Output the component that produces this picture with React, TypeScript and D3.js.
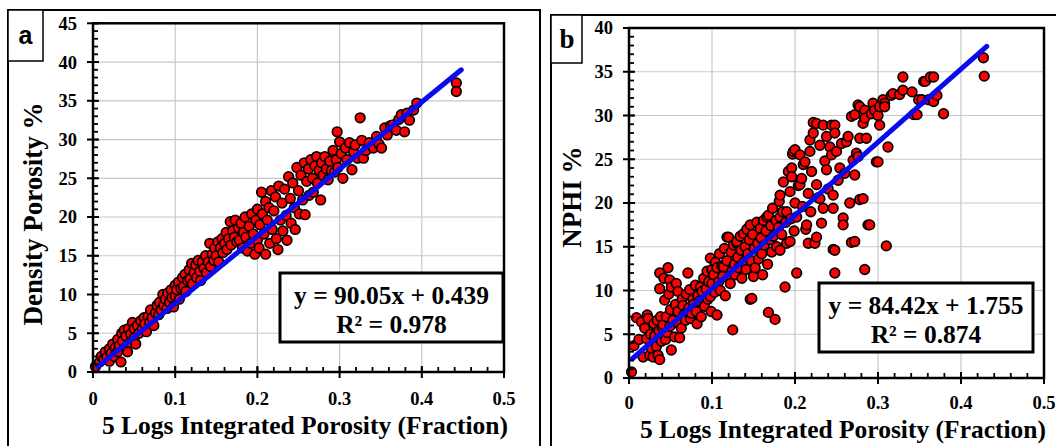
import React from "react";
import * as d3 from "d3";

// ---------- Data ----------
const xTicks = [0, 0.1, 0.2, 0.3, 0.4, 0.5];
const xTickLabels = ["0", "0.1", "0.2", "0.3", "0.4", "0.5"];
const yTicksA = [0, 5, 10, 15, 20, 25, 30, 35, 40, 45];
const yTicksB = [0, 5, 10, 15, 20, 25, 30, 35, 40];

const xTitle = "5 Logs Integrated Porosity (Fraction)";
const yTitleA = "Density Porosity %";
const yTitleB = "NPHI %";
const eqA = ["y = 90.05x + 0.439", "R² = 0.978"];
const eqB = ["y = 84.42x + 1.755", "R² = 0.874"];

const trendAX = [0.006, 0.448];
const trendAY = [0.7, 39.0];
const trendBX = [0.004, 0.431];
const trendBY = [2.2, 37.9];

const pointsA: [number, number][] = [
  [0.003,0.7],[0.008,1.3],[0.01,2.0],[0.013,1.6],[0.015,2.6],[0.017,1.9],[0.02,3.0],[0.02,1.4],[0.022,2.4],[0.024,3.6],
  [0.026,2.0],[0.027,3.1],[0.03,2.6],[0.03,4.2],[0.032,3.4],[0.034,1.3],[0.035,5.0],[0.036,4.0],[0.038,5.4],[0.04,3.2],
  [0.04,4.6],[0.042,2.6],[0.043,5.6],[0.045,3.8],[0.046,4.9],[0.048,6.4],[0.05,4.4],[0.05,5.6],[0.052,3.6],[0.054,6.0],
  [0.056,5.0],[0.058,6.6],[0.06,5.6],[0.062,7.0],[0.063,6.2],[0.065,5.2],[0.067,7.2],[0.069,6.4],[0.07,8.0],[0.072,7.0],
  [0.074,6.0],[0.076,7.6],[0.078,8.6],[0.08,7.4],[0.081,9.0],[0.083,8.0],[0.085,10.0],[0.086,8.6],[0.088,9.4],[0.09,8.2],
  [0.091,10.2],[0.093,9.0],[0.095,10.6],[0.096,9.6],[0.098,8.4],[0.1,11.2],[0.1,9.8],
  [0.102,10.6],[0.104,11.6],[0.105,9.4],[0.107,10.8],[0.109,12.2],[0.11,11.0],[0.112,12.6],[0.113,10.4],[0.115,11.8],[0.117,13.2],
  [0.118,12.0],[0.12,14.0],[0.121,11.4],[0.123,12.8],[0.125,13.8],[0.126,12.2],[0.128,14.4],[0.13,13.0],[0.131,11.8],[0.133,14.2],
  [0.135,13.4],[0.137,15.0],[0.138,12.8],[0.14,14.2],[0.142,16.6],[0.143,13.6],[0.145,15.2],[0.147,14.4],[0.148,16.0],[0.15,15.0],
  [0.152,16.8],[0.153,14.2],[0.155,16.0],[0.157,17.2],[0.158,15.4],[0.16,16.6],[0.162,18.0],[0.163,15.8],[0.165,17.2],[0.167,19.4],
  [0.168,16.4],[0.17,18.2],[0.172,17.4],[0.173,19.6],[0.175,16.8],[0.177,18.6],[0.178,17.0],[0.18,19.2],[0.182,16.0],[0.183,18.0],
  [0.185,20.0],[0.186,17.4],[0.188,15.6],[0.19,18.8],[0.192,16.6],[0.193,20.4],[0.195,17.8],[0.197,15.2],[0.198,19.6],[0.2,21.0],[0.2,17.0],
  [0.202,16.0],[0.203,19.0],[0.205,23.2],[0.206,20.4],[0.208,17.8],[0.21,22.0],[0.21,15.2],[0.212,19.6],[0.214,21.2],[0.215,16.6],
  [0.217,23.4],[0.218,18.4],[0.22,20.8],[0.222,22.6],[0.223,17.2],[0.225,15.8],[0.226,24.0],[0.228,19.6],[0.23,21.8],[0.231,18.2],
  [0.233,23.6],[0.235,20.2],[0.236,17.0],[0.238,25.2],[0.24,22.4],[0.241,19.2],[0.243,24.4],[0.245,21.2],[0.246,18.4],[0.248,26.4],
  [0.25,23.4],[0.251,20.4],[0.253,25.4],[0.255,22.2],[0.257,27.0],[0.258,20.3],[0.26,24.6],[0.262,26.2],[0.263,22.8],[0.265,27.4],
  [0.267,25.0],[0.268,23.2],[0.27,26.6],[0.272,27.8],[0.273,24.4],[0.275,26.0],[0.277,22.2],[0.278,27.0],[0.28,25.4],[0.282,27.8],
  [0.284,26.2],[0.286,24.8],[0.288,27.2],[0.29,26.0],[0.292,28.6],[0.294,25.8],[0.296,27.4],[0.297,31.0],[0.298,26.4],[0.3,29.7],
  [0.302,28.2],[0.304,25.0],[0.307,28.9],[0.309,27.4],[0.312,29.6],[0.315,26.1],[0.317,28.4],[0.319,29.3],[0.322,27.6],[0.325,32.8],
  [0.327,29.9],[0.329,27.6],[0.332,28.6],[0.336,29.6],[0.341,28.9],[0.345,30.4],[0.348,29.4],[0.351,28.9],[0.355,31.5],[0.358,30.6],
  [0.362,31.8],[0.365,31.9],[0.369,31.2],[0.372,32.6],[0.375,33.2],[0.379,31.0],[0.382,33.4],[0.385,32.5],[0.39,33.8],[0.394,34.7],
  [0.442,37.3],[0.442,36.2],
];

const pointsB: [number, number][] = [
  [0.003,0.7],[0.006,3.7],[0.009,6.9],[0.012,4.4],[0.015,6.4],[0.017,2.4],[0.019,5.7],[0.021,4.5],[0.022,7.2],[0.023,6.8],
  [0.025,2.6],[0.026,5.0],[0.027,3.4],[0.029,2.4],[0.03,6.2],[0.031,4.8],[0.033,3.6],[0.034,6.6],[0.035,2.6],[0.036,5.4],
  [0.037,2.1],[0.037,12.0],[0.037,10.2],[0.038,7.0],[0.039,4.2],[0.04,5.8],[0.041,6.1],[0.042,11.4],[0.043,8.9],[0.044,4.4],
  [0.045,7.0],[0.046,5.2],[0.047,12.6],[0.048,9.6],[0.049,11.2],[0.049,5.9],[0.05,7.8],[0.051,10.4],[0.051,3.2],[0.053,6.6],
  [0.055,4.7],[0.056,8.4],[0.057,10.8],[0.059,9.9],[0.059,7.6],[0.06,6.2],[0.061,4.6],[0.063,5.7],[0.064,9.0],[0.065,8.3],
  [0.066,7.2],[0.068,6.6],[0.069,9.6],[0.071,12.0],[0.072,8.0],[0.073,10.1],[0.074,6.8],[0.075,7.4],[0.077,9.0],[0.078,8.4],
  [0.08,10.6],[0.081,7.6],[0.082,6.2],[0.083,9.4],[0.085,8.8],[0.086,10.4],[0.087,7.0],[0.088,9.9],[0.09,11.4],[0.091,8.2],
  [0.093,10.2],[0.094,12.2],[0.095,9.0],[0.096,11.0],[0.098,9.3],[0.098,13.7],[0.099,7.6],[0.1,12.4],[0.1,10.8],
  [0.102,11.8],[0.103,9.8],[0.104,13.2],[0.106,7.2],[0.106,12.6],[0.108,11.0],[0.109,14.2],[0.11,10.0],[0.112,12.8],[0.113,11.6],
  [0.114,12.7],[0.115,14.8],[0.116,9.4],[0.118,16.1],[0.118,13.4],[0.12,16.1],[0.12,11.4],[0.122,10.8],[0.123,14.4],[0.124,12.2],
  [0.125,5.5],[0.126,15.2],[0.127,13.0],[0.128,11.8],[0.13,15.4],[0.13,15.6],[0.131,13.8],[0.132,12.6],[0.134,16.2],[0.135,14.6],
  [0.136,11.4],[0.138,16.5],[0.138,13.2],[0.14,15.0],[0.141,12.4],[0.142,17.0],[0.143,14.2],[0.145,15.8],[0.146,17.5],[0.146,9.0],
  [0.147,13.4],[0.148,9.1],[0.149,16.4],[0.15,11.6],[0.151,14.8],[0.152,12.6],[0.154,17.8],[0.155,15.4],[0.156,13.6],[0.158,17.1],
  [0.159,16.0],[0.16,14.2],[0.161,11.8],[0.162,18.0],[0.163,15.2],[0.165,16.8],[0.166,18.4],[0.167,13.0],[0.168,18.6],[0.168,7.5],
  [0.17,15.8],[0.171,17.4],[0.172,14.4],[0.173,19.4],[0.174,16.2],[0.176,6.7],[0.177,18.0],[0.178,15.0],[0.18,17.2],[0.181,20.2],
  [0.182,20.9],[0.182,18.4],[0.182,14.6],[0.184,16.4],[0.185,19.0],[0.186,22.4],[0.188,10.4],[0.189,17.8],[0.19,19.0],[0.19,15.4],
  [0.192,23.6],[0.194,21.3],[0.194,15.6],[0.195,18.2],[0.196,24.0],[0.196,23.0],[0.197,25.6],[0.198,25.9],[0.199,16.8],[0.2,26.1],[0.2,20.0],
  [0.202,18.4],[0.202,12.0],[0.204,22.0],[0.206,25.5],[0.206,22.1],[0.208,22.8],[0.209,19.6],[0.21,24.4],[0.212,24.7],[0.213,17.0],
  [0.214,17.5],[0.216,21.1],[0.216,15.4],[0.218,27.2],[0.218,25.9],[0.219,19.0],[0.22,23.6],[0.222,28.0],[0.222,29.2],[0.224,15.4],
  [0.226,29.1],[0.226,22.1],[0.226,16.1],[0.228,20.6],[0.23,20.5],[0.23,26.6],[0.232,17.7],[0.234,28.9],[0.234,19.4],[0.236,24.8],
  [0.238,27.6],[0.238,23.8],[0.24,21.6],[0.242,26.4],[0.244,25.5],[0.244,28.9],[0.246,20.9],[0.246,19.4],[0.246,14.7],[0.248,28.9],
  [0.248,28.0],[0.248,12.0],[0.248,14.6],[0.25,25.9],[0.252,22.6],[0.254,24.0],[0.256,26.8],[0.258,18.3],[0.258,17.5],[0.26,23.4],
  [0.262,27.0],[0.264,27.6],[0.266,20.0],[0.268,15.5],[0.268,29.9],[0.27,24.9],[0.272,23.2],[0.272,15.6],[0.272,30.1],[0.274,25.7],
  [0.276,25.3],[0.276,31.2],[0.278,31.0],[0.278,27.4],[0.278,20.4],[0.282,20.5],[0.282,29.1],[0.284,30.6],[0.284,29.7],[0.284,12.4],
  [0.286,27.4],[0.288,17.5],[0.29,17.5],[0.292,30.2],[0.294,31.4],[0.296,30.6],[0.298,24.7],[0.3,30.0],[0.3,24.7],
  [0.302,31.0],[0.302,28.9],[0.306,31.8],[0.308,31.4],[0.308,31.0],[0.31,15.1],[0.312,26.4],[0.316,32.3],[0.318,32.5],[0.326,32.4],
  [0.33,32.9],[0.33,34.4],[0.341,32.7],[0.343,30.1],[0.347,30.1],[0.349,31.8],[0.353,31.8],[0.355,33.9],[0.357,33.9],[0.361,31.8],
  [0.363,34.4],[0.367,34.4],[0.367,31.6],[0.371,32.3],[0.379,30.2],[0.427,36.6],[0.428,34.5],
];

const SERIF = "'Liberation Serif', 'Times New Roman', serif";
const SANS = "'Liberation Sans', Arial, sans-serif";

type PanelProps = {
  left: number; right: number; top: number; bottom: number;
  yMax: number; yTicks: number[];
  points: [number, number][];
  trendX: number[]; trendY: number[];
  eq: string[];
  box: { x0: number; x1: number; y0: number; y1: number };
  yTitle: string; yTitleX: number; yTitleY: number;
  xTitleX: number; xTitleY: number; yLabelRight: number; xLabelY: number;
};

function Panel(p: PanelProps) {
  const x = d3.scaleLinear().domain([0, 0.5]).range([p.left, p.right]);
  const y = d3.scaleLinear().domain([0, p.yMax]).range([p.bottom, p.top]);
  const minorY = d3.range(0, p.yMax + 0.001, 1);
  const minorX = d3.range(0, 0.5001, 0.02);
  const line = d3.line<[number, number]>().x((d) => x(d[0])).y((d) => y(d[1]));
  const trend: [number, number][] = p.trendX.map((v, i) => [v, p.trendY[i]]);
  const cx = (p.box.x0 + p.box.x1) / 2;
  return (
    <g>
      {xTicks.slice(1, -1).map((t) => (
        <line key={"gx" + t} x1={x(t)} x2={x(t)} y1={p.top} y2={p.bottom} stroke="#c8c8c8" strokeWidth={1.2} />
      ))}
      {p.yTicks.slice(1, -1).map((t) => (
        <line key={"gy" + t} x1={p.left} x2={p.right} y1={y(t)} y2={y(t)} stroke="#c8c8c8" strokeWidth={1.2} />
      ))}
      {p.points.map((d, i) => (
        <circle key={i} cx={x(d[0])} cy={y(d[1])} r={4.8} fill="#ff0000" stroke="#000" strokeWidth={1.7} />
      ))}
      <path d={line(trend) || ""} stroke="#0a0af0" strokeWidth={5} fill="none" strokeLinecap="round" />
      <rect x={p.left} y={p.top} width={p.right - p.left} height={p.bottom - p.top} fill="none" stroke="#000" strokeWidth={2.5} />
      {minorY.map((t) => (
        <line key={"my" + t} x1={p.left} x2={p.left + 5} y1={y(t)} y2={y(t)} stroke="#000" strokeWidth={1.8} />
      ))}
      {minorX.map((t, i) => (
        <line key={"mx" + i} x1={x(t)} x2={x(t)} y1={p.bottom} y2={p.bottom - 5} stroke="#000" strokeWidth={1.8} />
      ))}
      {p.yTicks.map((t) => (
        <line key={"My" + t} x1={p.left - 6} x2={p.left + 6} y1={y(t)} y2={y(t)} stroke="#000" strokeWidth={2} />
      ))}
      {xTicks.map((t) => (
        <line key={"Mx" + t} x1={x(t)} x2={x(t)} y1={p.bottom - 6} y2={p.bottom + 6} stroke="#000" strokeWidth={2} />
      ))}
      {p.yTicks.map((t) => (
        <text key={"ly" + t} x={p.yLabelRight} y={y(t)} dy="0.35em" textAnchor="end" fontFamily={SERIF} fontWeight="bold" fontSize={18.5}>
          {t}
        </text>
      ))}
      {xTicks.map((t, i) => (
        <text key={"lx" + t} x={x(t)} y={p.xLabelY} textAnchor="middle" fontFamily={SERIF} fontWeight="bold" fontSize={18.5}>
          {xTickLabels[i]}
        </text>
      ))}
      <text x={p.xTitleX} y={p.xTitleY} textAnchor="middle" fontFamily={SERIF} fontWeight="bold" fontSize={25.5}>
        {xTitle}
      </text>
      <text transform={`translate(${p.yTitleX},${p.yTitleY}) rotate(-90)`} textAnchor="middle" fontFamily={SERIF} fontWeight="bold" fontSize={27}>
        {p.yTitle}
      </text>
      <rect x={p.box.x0} y={p.box.y0} width={p.box.x1 - p.box.x0} height={p.box.y1 - p.box.y0} fill="#fff" stroke="#000" strokeWidth={3} />
      <text x={cx} y={p.box.y0 + 31} textAnchor="middle" fontFamily={SERIF} fontWeight="bold" fontSize={25.5}>{p.eq[0]}</text>
      <text x={cx} y={p.box.y0 + 60} textAnchor="middle" fontFamily={SERIF} fontWeight="bold" fontSize={25.5}>{p.eq[1]}</text>
    </g>
  );
}

export default function App() {
  return (
    <svg width={1056} height={446} style={{ position: "absolute", left: 0, top: 0, background: "#fff" }}>
      <rect x={0} y={0} width={1056} height={446} fill="#fff" />
      <rect x={8} y={10} width={532} height={450} fill="none" stroke="#000" strokeWidth={2} />
      <rect x={551} y={15} width={520} height={450} fill="none" stroke="#000" strokeWidth={2} />
      <rect x={8} y={10} width={35} height={51} fill="#fff" stroke="#000" strokeWidth={1.5} />
      <rect x={551} y={15} width={31} height={48} fill="#fff" stroke="#000" strokeWidth={1.5} />
      <text x={25.5} y={44} textAnchor="middle" fontFamily={SANS} fontWeight="bold" fontSize={25}>a</text>
      <text x={567} y={48} textAnchor="middle" fontFamily={SERIF} fontWeight="bold" fontSize={27}>b</text>
      <Panel
        left={93} right={504} top={23.3} bottom={372} yMax={45} yTicks={yTicksA}
        points={pointsA} trendX={trendAX} trendY={trendAY} eq={eqA}
        box={{ x0: 280, x1: 503, y0: 273, y1: 342 }}
        yTitle={yTitleA} yTitleX={42} yTitleY={214}
        xTitleX={305} xTitleY={434} yLabelRight={77} xLabelY={405}
      />
      <Panel
        left={629} right={1044} top={28} bottom={378} yMax={40} yTicks={yTicksB}
        points={pointsB} trendX={trendBX} trendY={trendBY} eq={eqB}
        box={{ x0: 819, x1: 1033, y0: 283, y1: 352 }}
        yTitle={yTitleB} yTitleX={581} yTitleY={197}
        xTitleX={843} xTitleY={438} yLabelRight={613} xLabelY={409}
      />
    </svg>
  );
}
